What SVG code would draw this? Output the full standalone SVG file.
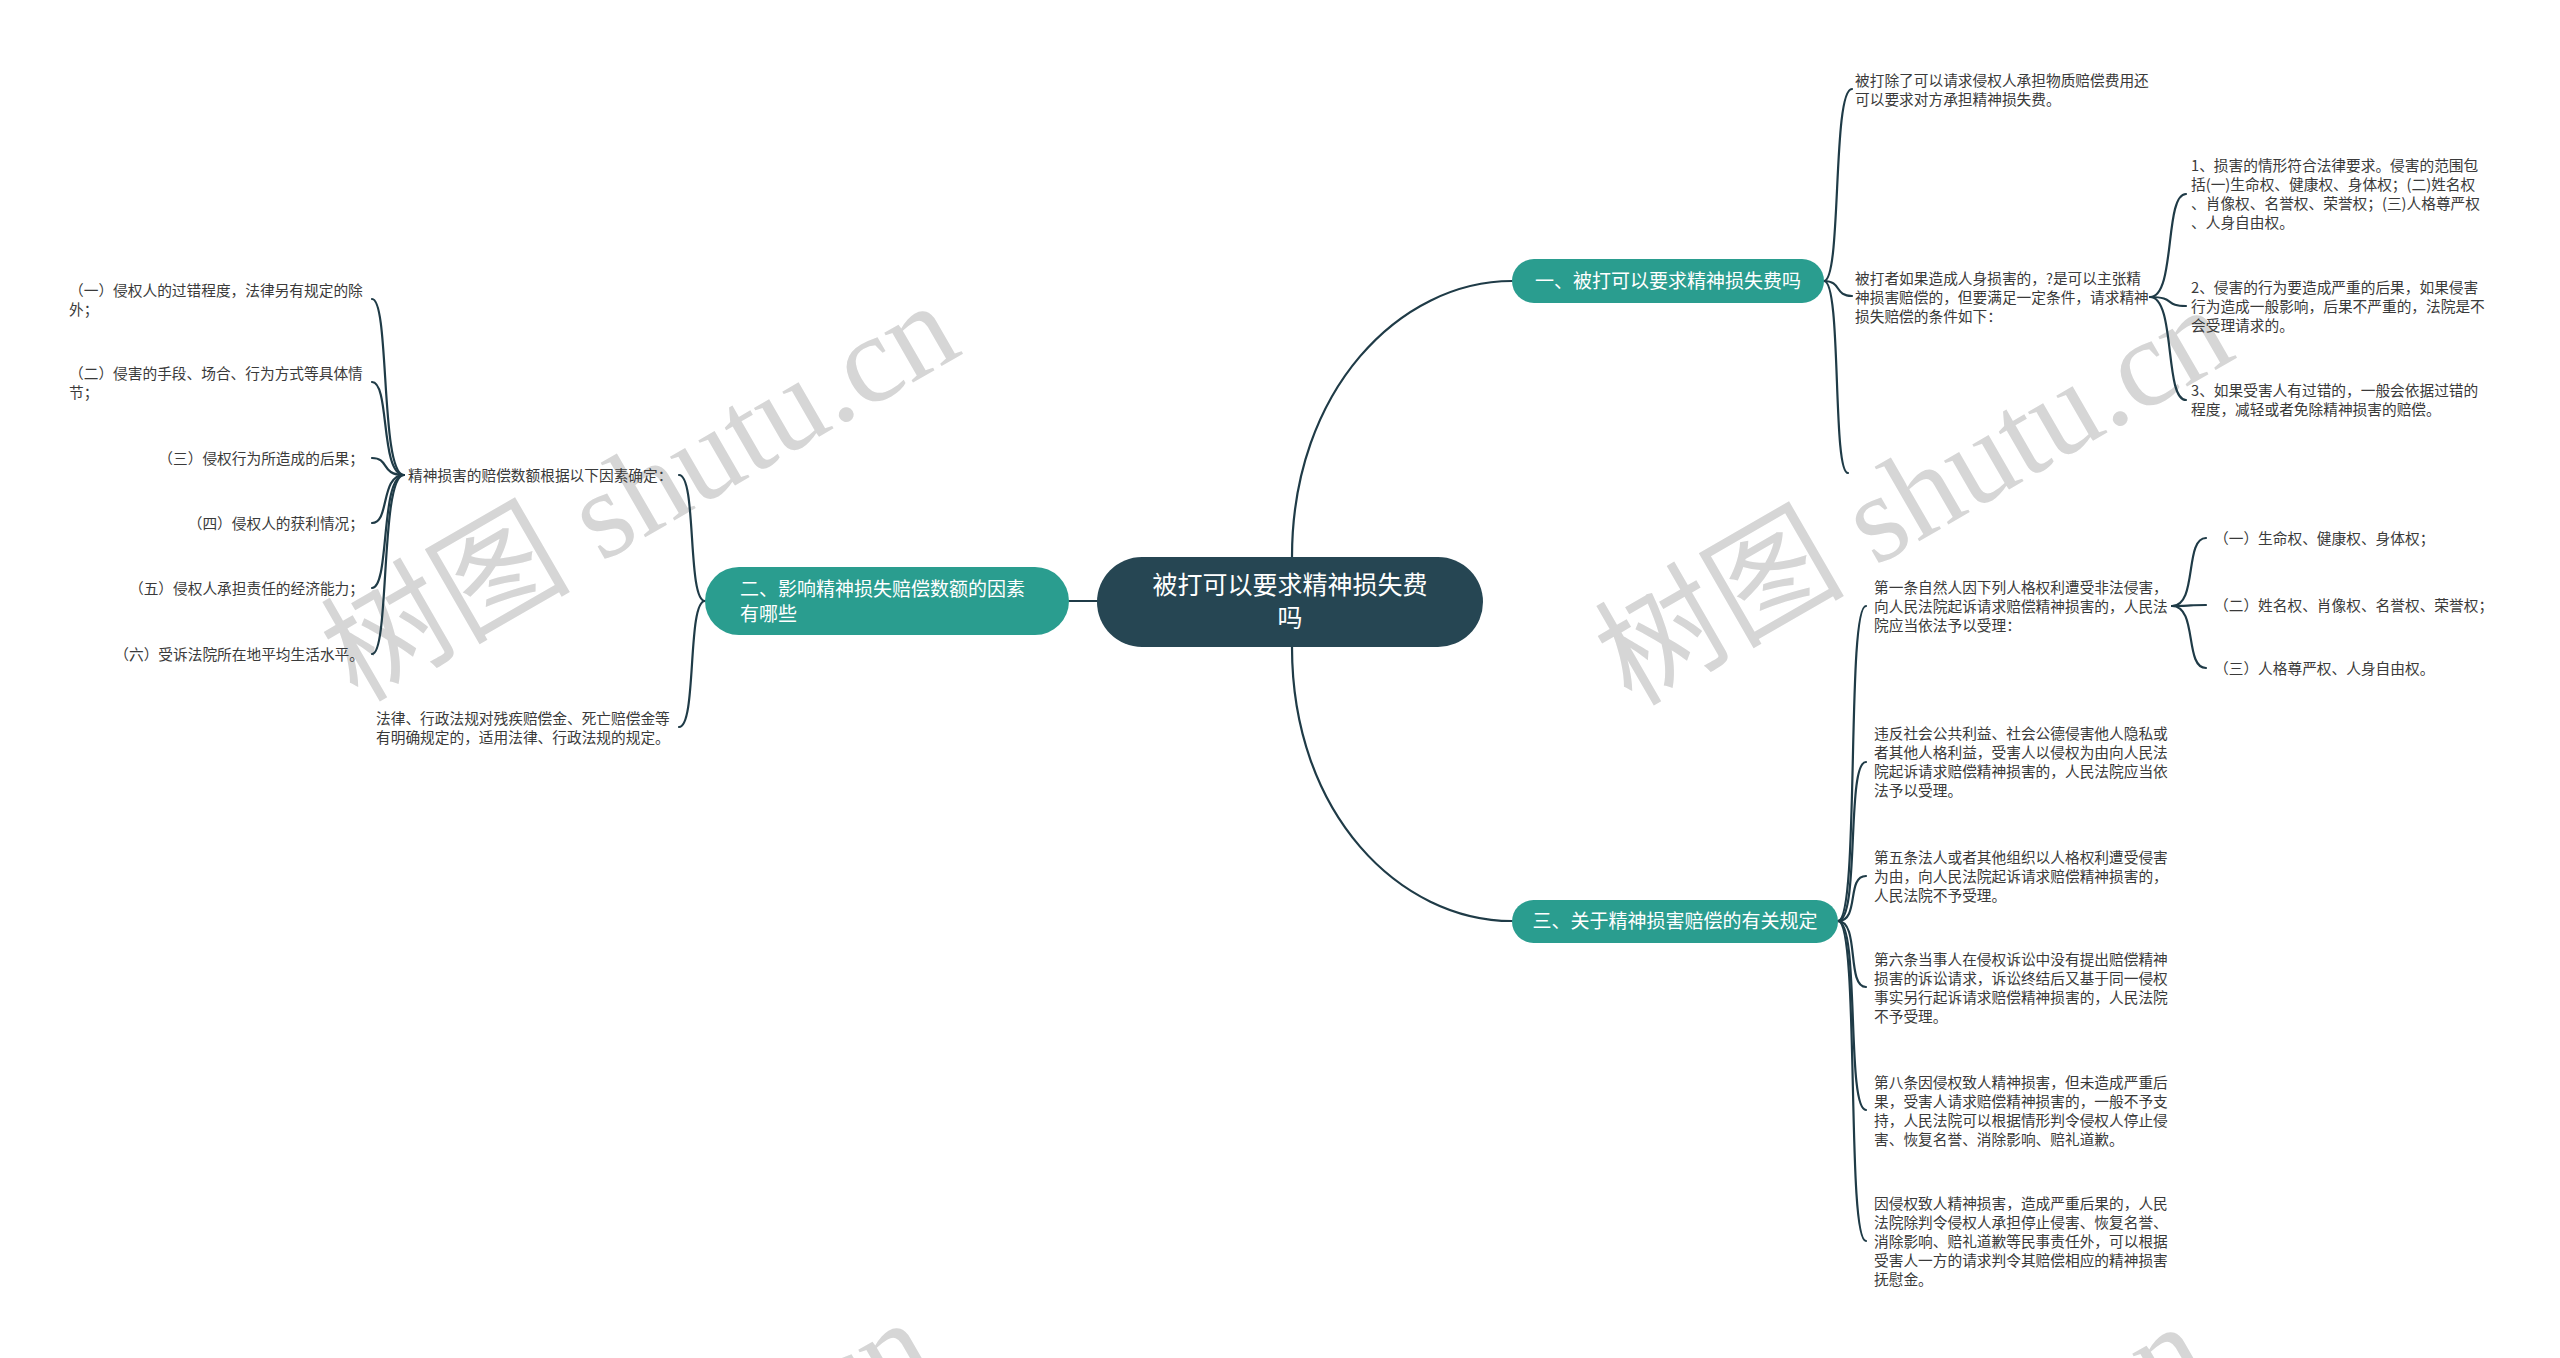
<svg xmlns="http://www.w3.org/2000/svg" width="2560" height="1358" viewBox="0 0 2560 1358">
<style>
.wm{font-family:"Liberation Serif","Noto Sans CJK SC",serif;font-size:125px;fill:#d6d6d6;text-anchor:middle;}
.lf{font-family:"Noto Sans CJK SC","Noto Sans",sans-serif;font-size:14.7px;fill:#3a3a3a;}
.lfe{text-anchor:end;}
.br{font-family:"Noto Sans CJK SC","Noto Sans",sans-serif;font-size:19px;fill:#ffffff;}
.brc{text-anchor:middle;}
.rt{font-family:"Noto Sans CJK SC","Noto Sans",sans-serif;font-size:25px;fill:#ffffff;text-anchor:middle;}
.ln{fill:none;stroke:#1f3b47;stroke-width:2.2;stroke-linecap:round;}
.pill{fill:#2a9d8f;}
.root{fill:#264653;}
</style>
<rect width="2560" height="1358" fill="#ffffff"/>
<g id="watermarks">
<text class="wm" transform="translate(661,528) rotate(-30)">树图 shutu.cn</text>
<text class="wm" transform="translate(1935,532) rotate(-30)">树图 shutu.cn</text>
<text class="wm" transform="translate(635,1545) rotate(-30)">树图 shutu.cn</text>
<text class="wm" transform="translate(1909,1549) rotate(-30)">树图 shutu.cn</text>
</g>
<g id="connectors">
<path class="ln" d="M1292,557 C1292,390 1400,281 1512,281"/>
<path class="ln" d="M1292,647 C1292,814 1400,921 1512,921"/>
<path class="ln" d="M1069,601 L1097,601"/>
<path class="ln" d="M1824,281 C1842,281 1832,89 1852,89"/>
<path class="ln" d="M1824,281 C1842,281 1834,296 1852,296"/>
<path class="ln" d="M1824,281 C1842,281 1832,473 1848,473"/>
<path class="ln" d="M2150,297 C2176,297 2164,194 2186,194"/>
<path class="ln" d="M2150,297 C2176,297 2164,306 2186,306"/>
<path class="ln" d="M2150,297 C2176,297 2164,400 2186,400"/>
<path class="ln" d="M1838,921 C1860,921 1846,606 1866,606"/>
<path class="ln" d="M1838,921 C1860,921 1846,762 1866,762"/>
<path class="ln" d="M1838,921 C1860,921 1846,876 1866,876"/>
<path class="ln" d="M1838,921 C1860,921 1846,987 1866,987"/>
<path class="ln" d="M1838,921 C1860,921 1846,1110 1866,1110"/>
<path class="ln" d="M1838,921 C1860,921 1846,1241 1866,1241"/>
<path class="ln" d="M2172,606 C2198,606 2184,538 2206,538"/>
<path class="ln" d="M2172,606 C2198,606 2184,605 2206,605"/>
<path class="ln" d="M2172,606 C2198,606 2184,668 2206,668"/>
<path class="ln" d="M705,601 C687,601 697,475 679,475"/>
<path class="ln" d="M705,601 C687,601 697,727 679,727"/>
<path class="ln" d="M404,475 C380,475 390,299 372,299"/>
<path class="ln" d="M404,475 C380,475 390,382 372,382"/>
<path class="ln" d="M404,475 C380,475 390,458 372,458"/>
<path class="ln" d="M404,475 C380,475 390,523 372,523"/>
<path class="ln" d="M404,475 C380,475 390,588 372,588"/>
<path class="ln" d="M404,475 C380,475 390,654 372,654"/>
</g>
<g id="root">
<rect class="root" x="1097" y="557" width="386" height="90" rx="45"/>
<text class="rt"><tspan x="1290" y="594">被打可以要求精神损失费</tspan><tspan x="1290" y="627">吗</tspan></text>
</g>
<g id="branch1">
<rect class="pill" x="1512" y="259" width="312" height="44" rx="22"/>
<text class="br brc" x="1668" y="288">一、被打可以要求精神损失费吗</text>
</g>
<g id="branch2">
<rect class="pill" x="705" y="567" width="364" height="68" rx="34"/>
<text class="br"><tspan x="740" y="596">二、影响精神损失赔偿数额的因素</tspan><tspan x="740" y="621">有哪些</tspan></text>
</g>
<g id="branch3">
<rect class="pill" x="1512" y="900" width="326" height="43" rx="21.5"/>
<text class="br brc" x="1675" y="928">三、关于精神损害赔偿的有关规定</text>
</g>
<g id="n1a">
<text class="lf"><tspan x="1855" y="85.5">被打除了可以请求侵权人承担物质赔偿费用还</tspan><tspan x="1855" y="104.5">可以要求对方承担精神损失费。</tspan></text>
</g>
<g id="n1b">
<text class="lf"><tspan x="1855" y="283.5">被打者如果造成人身损害的，?是可以主张精</tspan><tspan x="1855" y="302.5">神损害赔偿的，但要满足一定条件，请求精神</tspan><tspan x="1855" y="321.5">损失赔偿的条件如下：</tspan></text>
</g>
<g id="n1b1">
<text class="lf"><tspan x="2191" y="170.5">1、损害的情形符合法律要求。侵害的范围包</tspan><tspan x="2191" y="189.5">括(一)生命权、健康权、身体权；(二)姓名权</tspan><tspan x="2191" y="208.5">、肖像权、名誉权、荣誉权；(三)人格尊严权</tspan><tspan x="2191" y="227.5">、人身自由权。</tspan></text>
</g>
<g id="n1b2">
<text class="lf"><tspan x="2191" y="292.5">2、侵害的行为要造成严重的后果，如果侵害</tspan><tspan x="2191" y="311.5">行为造成一般影响，后果不严重的，法院是不</tspan><tspan x="2191" y="330.5">会受理请求的。</tspan></text>
</g>
<g id="n1b3">
<text class="lf"><tspan x="2191" y="395.5">3、如果受害人有过错的，一般会依据过错的</tspan><tspan x="2191" y="414.5">程度，减轻或者免除精神损害的赔偿。</tspan></text>
</g>
<g id="n3a">
<text class="lf"><tspan x="1874" y="592.5">第一条自然人因下列人格权利遭受非法侵害，</tspan><tspan x="1874" y="611.5">向人民法院起诉请求赔偿精神损害的，人民法</tspan><tspan x="1874" y="630.5">院应当依法予以受理：</tspan></text>
</g>
<g id="n3a1"><text class="lf" x="2214" y="543.5">（一）生命权、健康权、身体权；</text></g>
<g id="n3a2"><text class="lf" x="2214" y="610.5">（二）姓名权、肖像权、名誉权、荣誉权；</text></g>
<g id="n3a3"><text class="lf" x="2214" y="673.5">（三）人格尊严权、人身自由权。</text></g>
<g id="n3b">
<text class="lf"><tspan x="1874" y="738.5">违反社会公共利益、社会公德侵害他人隐私或</tspan><tspan x="1874" y="757.5">者其他人格利益，受害人以侵权为由向人民法</tspan><tspan x="1874" y="776.5">院起诉请求赔偿精神损害的，人民法院应当依</tspan><tspan x="1874" y="795.5">法予以受理。</tspan></text>
</g>
<g id="n3c">
<text class="lf"><tspan x="1874" y="862.5">第五条法人或者其他组织以人格权利遭受侵害</tspan><tspan x="1874" y="881.5">为由，向人民法院起诉请求赔偿精神损害的，</tspan><tspan x="1874" y="900.5">人民法院不予受理。</tspan></text>
</g>
<g id="n3d">
<text class="lf"><tspan x="1874" y="964.5">第六条当事人在侵权诉讼中没有提出赔偿精神</tspan><tspan x="1874" y="983.5">损害的诉讼请求，诉讼终结后又基于同一侵权</tspan><tspan x="1874" y="1002.5">事实另行起诉请求赔偿精神损害的，人民法院</tspan><tspan x="1874" y="1021.5">不予受理。</tspan></text>
</g>
<g id="n3e">
<text class="lf"><tspan x="1874" y="1087.5">第八条因侵权致人精神损害，但未造成严重后</tspan><tspan x="1874" y="1106.5">果，受害人请求赔偿精神损害的，一般不予支</tspan><tspan x="1874" y="1125.5">持，人民法院可以根据情形判令侵权人停止侵</tspan><tspan x="1874" y="1144.5">害、恢复名誉、消除影响、赔礼道歉。</tspan></text>
</g>
<g id="n3f">
<text class="lf"><tspan x="1874" y="1208.5">因侵权致人精神损害，造成严重后果的，人民</tspan><tspan x="1874" y="1227.5">法院除判令侵权人承担停止侵害、恢复名誉、</tspan><tspan x="1874" y="1246.5">消除影响、赔礼道歉等民事责任外，可以根据</tspan><tspan x="1874" y="1265.5">受害人一方的请求判令其赔偿相应的精神损害</tspan><tspan x="1874" y="1284.5">抚慰金。</tspan></text>
</g>
<g id="n2a">
<text class="lf" x="408" y="480.5">精神损害的赔偿数额根据以下因素确定：</text>
</g>
<g id="n2a1">
<text class="lf"><tspan x="69" y="295.5">（一）侵权人的过错程度，法律另有规定的除</tspan><tspan x="69" y="314.5">外；</tspan></text>
</g>
<g id="n2a2">
<text class="lf"><tspan x="69" y="378.5">（二）侵害的手段、场合、行为方式等具体情</tspan><tspan x="69" y="397.5">节；</tspan></text>
</g>
<g id="n2a3"><text class="lf lfe" x="364" y="463.5">（三）侵权行为所造成的后果；</text></g>
<g id="n2a4"><text class="lf lfe" x="364" y="528.5">（四）侵权人的获利情况；</text></g>
<g id="n2a5"><text class="lf lfe" x="364" y="593.5">（五）侵权人承担责任的经济能力；</text></g>
<g id="n2a6"><text class="lf lfe" x="364" y="659.5">（六）受诉法院所在地平均生活水平。</text></g>
<g id="n2b">
<text class="lf"><tspan x="376" y="723.5">法律、行政法规对残疾赔偿金、死亡赔偿金等</tspan><tspan x="376" y="742.5">有明确规定的，适用法律、行政法规的规定。</tspan></text>
</g>
</svg>
